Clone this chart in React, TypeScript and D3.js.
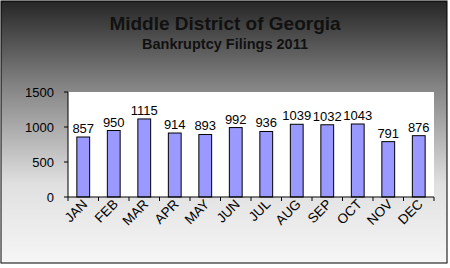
import React from "react";
import * as d3 from "d3";

const months = ["JAN","FEB","MAR","APR","MAY","JUN","JUL","AUG","SEP","OCT","NOV","DEC"];
const filings = [857, 950, 1115, 914, 893, 992, 936, 1039, 1032, 1043, 791, 876];
const yTicks = [0, 500, 1000, 1500];
const titleText = "Middle District of Georgia";
const subtitleText = "Bankruptcy Filings 2011";

export default function App() {
  const W = 450, H = 268;
  const left = 68, right = 434, top = 92, bottom = 197;
  const x = d3.scaleBand<string>().domain(months).range([left, right]).paddingInner(0).paddingOuter(0);
  const y = d3.scaleLinear().domain([0, 1500]).range([bottom, top]);
  const bw = x.bandwidth() * 0.42;
  const font = "'Liberation Sans', Arial, sans-serif";
  return (
    <svg width={W} height={H} style={{ position: "absolute", left: 0, top: 0 }} fontFamily={font}>
      <defs>
        <linearGradient id="bg" x1="0" y1="0" x2="0" y2="1">
          <stop offset="0" stopColor="#262626" />
          <stop offset="0.33" stopColor="#858585" />
          <stop offset="0.7" stopColor="#e0e0e0" />
          <stop offset="1" stopColor="#f6f6f6" />
        </linearGradient>
      </defs>
      <rect x={1} y={1} width={446} height={262} fill="url(#bg)" stroke="#000" strokeWidth={1} />
      <rect x={left} y={top} width={right - left} height={bottom - top} fill="#fff" />
      <text x={225} y={30} textAnchor="middle" fontSize={19} fontWeight="bold" fill="#111">{titleText}</text>
      <text x={225} y={49} textAnchor="middle" fontSize={14.5} fontWeight="bold" fill="#111">{subtitleText}</text>
      {filings.map((v, i) => {
        const cx = (x(months[i]) as number) + x.bandwidth() / 2;
        return (
          <g key={months[i]}>
            <rect x={cx - bw / 2} y={y(v)} width={bw} height={bottom - y(v)} fill="#9999ff" stroke="#000" strokeWidth={1} />
            <text x={cx} y={y(v) - 4} textAnchor="middle" fontSize={13} fill="#000">{v}</text>
            <text transform={`translate(${cx + 5},${205}) rotate(-45)`} textAnchor="end" fontSize={13.5} fill="#000">{months[i]}</text>
          </g>
        );
      })}
      <line x1={left} x2={left} y1={top} y2={bottom} stroke="#000" />
      <line x1={left} x2={right} y1={bottom} y2={bottom} stroke="#000" />
      {yTicks.map(t => (
        <g key={t}>
          <line x1={left - 4} x2={left} y1={y(t)} y2={y(t)} stroke="#000" />
          <text x={left - 14} y={y(t) + 4.5} textAnchor="end" fontSize={13} fill="#000">{t}</text>
        </g>
      ))}
      {months.concat(["end"]).map((m, i) => {
        const xx = left + i * x.bandwidth();
        return <line key={m} x1={xx} x2={xx} y1={bottom} y2={bottom + 4} stroke="#000" />;
      })}
    </svg>
  );
}
